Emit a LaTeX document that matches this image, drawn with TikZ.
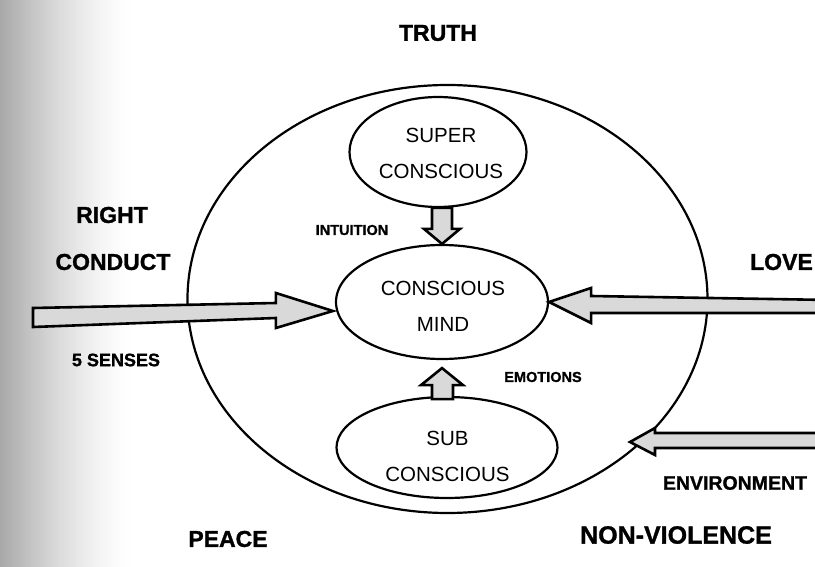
\documentclass[tikz,border=0pt]{standalone}
\usepackage{fontspec}
\setmainfont{Liberation Sans}[BoldFeatures={FakeBold=1.2}]
\usetikzlibrary{shapes.geometric,calc}
\tikzset{
  oval/.style={draw=black, line width=2.2pt, shape=ellipse, inner sep=0pt},
  blockarrow/.style={draw=black, line width=2.6pt, fill=black!15, line join=miter},
  biglabel/.style={font=\bfseries\fontsize{23}{27}\selectfont, inner sep=0pt},
  midlabel/.style={font=\bfseries\fontsize{18}{22}\selectfont, inner sep=0pt},
  smalllabel/.style={font=\bfseries\fontsize{14.5}{17}\selectfont, inner sep=0pt},
  ovaltext/.style={font=\fontsize{20.5}{36}\selectfont, align=center, inner sep=0pt}
}
\begin{document}
\begin{tikzpicture}[x=1pt,y=-1pt]
\useasboundingbox (0,0) rectangle (815,567);
\fill[white] (0,0) rectangle (815,567);
% scanned grey margin on the left
\foreach \i in {0,1,...,59} {
  \pgfmathsetmacro\g{34*(1-\i/60)^1.5}
  \fill[black!\g] (\i*2.2,0) rectangle (\i*2.2+2.4,567);
}

% ovals
\node[oval, minimum width=520pt, minimum height=428pt] (outer) at (447.5,299) {};
\node[oval, minimum width=177pt, minimum height=110pt] (super) at (438,152) {};
\node[oval, minimum width=212pt, minimum height=114pt] (mind) at (442,302) {};
\node[oval, minimum width=221pt, minimum height=101pt] (sub) at (447,447.5) {};

\node[ovaltext] (supertxt) at (441,153.5) {SUPER\\CONSCIOUS};
\node[ovaltext] (mindtxt) at (443,306) {CONSCIOUS\\MIND};
\node[ovaltext] (subtxt) at (447.5,456.5) {SUB\\CONSCIOUS};

% block arrows
\coordinate (ltip) at ($(mind.west)+(-2,9)$);
\draw[blockarrow] (ltip) -- ++(-57,-18) -- ++(0,10) -- (33,308) -- (33,327)
  -- ($(ltip)+(-57,7)$) -- ++(0,10) -- cycle;

\coordinate (rtip) at (mind.east);
\draw[blockarrow] (rtip) -- ++(42,-14) -- ++(0,8) -- (830,300) -- (830,313)
  -- ($(rtip)+(42,11)$) -- ++(0,10) -- cycle;

\coordinate (etip) at (630,442);
\draw[blockarrow] (etip) -- ++(25,-14) -- ++(0,5) -- (830,433) -- (830,448)
  -- ($(etip)+(25,6)$) -- ++(0,7) -- cycle;

\coordinate (dtip) at (mind.north);
\draw[blockarrow] (dtip) -- ++(18,-15) -- ++(-8,0) -- ($(dtip)+(10,-36)$)
  -- ($(dtip)+(-10,-36)$) -- ($(dtip)+(-10,-15)$) -- ($(dtip)+(-18,-15)$) -- cycle;

\coordinate (utip) at ($(mind.south)+(0,8)$);
\draw[blockarrow] (utip) -- ++(21,17) -- ++(-10,0) -- ($(utip)+(11,31)$)
  -- ($(utip)+(-10,31)$) -- ($(utip)+(-10,17)$) -- ($(utip)+(-21,17)$) -- cycle;

% labels
\node[biglabel] (truth) at (438,33) {TRUTH};
\node[biglabel] (right) at (112,215) {RIGHT};
\node[biglabel] (conduct) at (113,262) {CONDUCT};
\node[biglabel, anchor=east] (love) at (813,262) {LOVE};
\node[midlabel] (senses) at (116,360) {5 SENSES};
\node[smalllabel] (intuition) at (352,230) {INTUITION};
\node[smalllabel] (emotions) at (543,377) {EMOTIONS};
\node[font=\bfseries\fontsize{19.5}{22}\selectfont, inner sep=0pt] (environment) at (735,483) {ENVIRONMENT};
\node[biglabel] (peace) at (228,539) {PEACE};
\node[font=\bfseries\fontsize{25}{28}\selectfont, inner sep=0pt] (nonviolence) at (676,535) {NON-VIOLENCE};
\end{tikzpicture}
\end{document}
